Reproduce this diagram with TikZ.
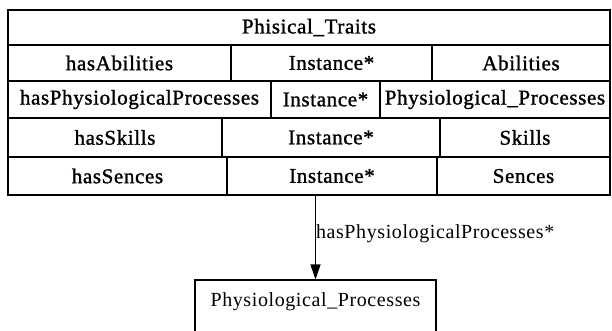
\documentclass[tikz,border=0pt]{standalone}
\usepackage{fontspec}
\setmainfont{Liberation Serif}[LetterSpace=3]
\newfontfamily\heavyserif{Liberation Serif}[LetterSpace=3, FakeBold=1.2]
\usetikzlibrary{arrows.meta}
\tikzset{
  frame/.style={line width=1.1pt},
  cell/.style={draw, frame, inner sep=0pt, font=\fontsize{21}{23}\heavyserif},
  lbl/.style={inner sep=0pt, font=\fontsize{20}{22}\selectfont},
  link/.style={frame, -{Triangle[length=15pt,width=10pt]}}
}
\begin{document}
\begin{tikzpicture}[x=1pt,y=-1pt]
  \useasboundingbox (0,0) rectangle (612,330);
  \fill[white] (0,0) rectangle (612,330);
  \clip (0,0) rectangle (612,330);

  % class header
  \node[cell, minimum width=602pt, minimum height=35pt] (head) at (309,27.5) {Phisical\_Traits};

  % hasAbilities row
  \node[cell, minimum width=223pt, minimum height=36pt] (p1) at (119.5,63) {hasAbilities};
  \node[cell, minimum width=201pt, minimum height=36pt] (i1) at (331.5,63) {Instance*};
  \node[cell, minimum width=178pt, minimum height=36pt] (r1) at (521,63) {Abilities};

  % hasPhysiologicalProcesses row
  \node[cell, minimum width=263pt, minimum height=37pt] (p2) at (139.5,99.5) {hasPhysiologicalProcesses};
  \node[cell, minimum width=109pt, minimum height=37pt] (i2) at (325.5,99.5) {Instance*};
  \node[cell, minimum width=230pt, minimum height=37pt] (r2) at (495,99.5) {Physiological\_Processes};

  % hasSkills row
  \node[cell, minimum width=214pt, minimum height=39pt] (p3) at (115,137.5) {hasSkills};
  \node[cell, minimum width=218pt, minimum height=39pt] (i3) at (331,137.5) {Instance*};
  \node[cell, minimum width=170pt, minimum height=39pt] (r3) at (525,137.5) {Skills};

  % hasSences row
  \node[cell, minimum width=219pt, minimum height=38pt] (p4) at (117.5,176) {hasSences};
  \node[cell, minimum width=210pt, minimum height=38pt] (i4) at (332,176) {Instance*};
  \node[cell, minimum width=173pt, minimum height=38pt] (r4) at (523.5,176) {Sences};

  % target class, running past the lower edge
  \node[draw, frame, inner sep=0pt, anchor=base, minimum width=241pt,
        text height=26pt, text depth=40pt, font=\fontsize{20}{22}\selectfont]
        (pp) at (315.5,306) {Physiological\_Processes};

  \draw[link] (pp.north |- i4.south) -- (pp.north)
    node[lbl, pos=0.45, anchor=west] (rel) {hasPhysiologicalProcesses*};
\end{tikzpicture}
\end{document}
